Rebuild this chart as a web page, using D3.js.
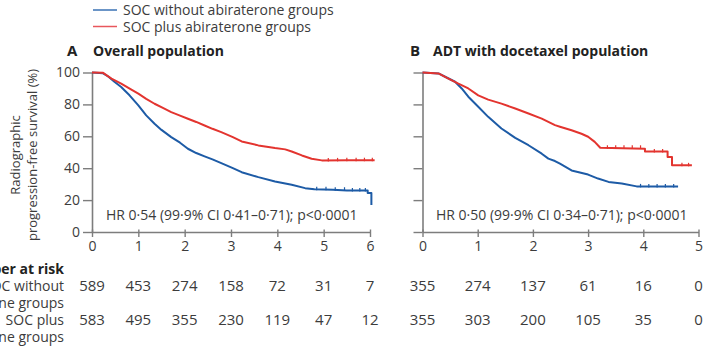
<!DOCTYPE html>
<html><head><meta charset="utf-8">
<script src="https://cdn.jsdelivr.net/npm/d3@7"></script>
<style>
html,body{margin:0;padding:0;background:#fff;}
svg{display:block;font-family:"Open Sans",sans-serif;}
</style></head>
<body><svg id="c" width="712" height="346"></svg>
<script>
// ---- data ----
const seriesNames = ["SOC without abiraterone groups", "SOC plus abiraterone groups"];
const panelTitles = [["A", "Overall population"], ["B", "ADT with docetaxel population"]];
const hrTexts = ["HR 0·54 (99·9% CI 0·41–0·71); p<0·0001", "HR 0·50 (99·9% CI 0·34–0·71); p<0·0001"];
const yTicks = [0, 20, 40, 60, 80, 100];
const xTicksA = [0, 1, 2, 3, 4, 5, 6];
const xTicksB = [0, 1, 2, 3, 4, 5];
const riskLabels = ["Number at risk", "SOC without", "abiraterone groups", "SOC plus", "abiraterone groups"];
const riskA_without = [589, 453, 274, 158, 72, 31, 7];
const riskA_plus = [583, 495, 355, 230, 119, 47, 12];
const riskB_without = [355, 274, 137, 61, 16, 0];
const riskB_plus = [355, 303, 200, 105, 35, 0];

// [years, % progression-free]
const curveA_without = [[0,100],[0.24,99.5],[0.35,97.5],[0.49,94],[0.63,90.9],[0.81,85.7],[1.0,79.4],[1.17,73.1],[1.35,67.9],[1.5,64],[1.71,59.5],[1.9,56],[2.07,52.2],[2.25,49.5],[2.43,47.4],[2.6,45.5],[2.79,43.2],[3.04,40],[3.23,37.5],[3.59,34.4],[3.95,31.7],[4.31,29.6],[4.6,27.5],[4.8,26.8],[5.2,26.5],[5.5,26],[5.95,26],[5.95,24.5],[6.03,24.5],[6.03,17]];
const curveA_plus = [[0,100],[0.24,99.8],[0.42,96.2],[0.63,93],[0.85,89.2],[1.0,86.7],[1.17,83.5],[1.35,80.4],[1.53,77.8],[1.71,75.2],[1.9,73],[2.07,71],[2.25,69],[2.43,66.8],[2.6,64.7],[2.79,62.6],[3.04,59.5],[3.23,56.8],[3.59,54.3],[3.95,52.6],[4.17,51.8],[4.31,50.5],[4.53,48],[4.74,45.9],[4.96,44.9],[5.5,45],[6.1,45]];
const curveB_without = [[0,100],[0.29,99.4],[0.4,97.5],[0.59,94.2],[0.71,90],[0.83,84.8],[1.01,78.5],[1.19,72.2],[1.43,64.9],[1.68,59],[1.92,54.4],[2.16,49.1],[2.28,46],[2.4,44.5],[2.49,42.8],[2.7,38.6],[3.0,36],[3.18,33.5],[3.37,31.4],[3.61,30.4],[3.88,28.6],[4.63,28.6]];
const curveB_plus = [[0,100],[0.29,99.4],[0.47,96.2],[0.65,93],[0.83,90],[1.01,85.7],[1.19,83],[1.43,80.5],[1.68,77.4],[1.92,74.3],[2.16,71.1],[2.4,67],[2.49,66],[2.7,63.8],[2.88,61.6],[3.0,59.7],[3.12,56.5],[3.22,52.8],[4.03,52.2],[4.03,50.5],[4.44,50.5],[4.44,47],[4.52,47],[4.52,41.8],[4.88,41.8]];

// censoring tick times (years) on the flat tails
const censorA_without = [4.85, 5.05, 5.25, 5.45, 5.62, 5.78, 5.9];
const censorA_plus = [5.1, 5.3, 5.5, 5.7, 5.88, 6.05];
const censorB_without = [3.95, 4.1, 4.25, 4.4, 4.55];
const censorB_plus = [3.35, 3.5, 3.65, 3.8, 3.95, 4.2, 4.35, 4.7, 4.82];

// ---- drawing ----
const svg = d3.select("#c");
const colBlue = "#1d5ba6", colRed = "#e3342f";
const legBlue = "#3a72b5", legRed = "#e8575c";
const txt = "#3c3c3c", axisCol = "#7d7d7d";

// legend
const leg = svg.append("g");
[[legBlue, 10], [legRed, 26.5]].forEach(([c, y], i) => {
  leg.append("line").attr("x1", 93).attr("x2", 117).attr("y1", y).attr("y2", y)
     .attr("stroke", c).attr("stroke-width", 1.5);
  leg.append("text").attr("x", 123).attr("y", y + 5).attr("font-size", 14)
     .attr("fill", txt).text(seriesNames[i]);
});

const y = d3.scaleLinear().domain([0, 100]).range([232, 72.5]);

const panels = [
  {x: d3.scaleLinear().domain([0, 6]).range([92, 370]), ticks: xTicksA, labels: true,
   curves: [curveA_without, curveA_plus], censor: [censorA_without, censorA_plus],
   risk: [riskA_without, riskA_plus], titleX: 67, title2X: 93, hrX: 106},
  {x: d3.scaleLinear().domain([0, 5]).range([422.5, 698.5]), ticks: xTicksB, labels: false,
   curves: [curveB_without, curveB_plus], censor: [censorB_without, censorB_plus],
   risk: [riskB_without, riskB_plus], titleX: 410, title2X: 433, hrX: 436}
];

// value of a curve at time t (last point at or before t)
function valueAt(curve, t) {
  let v = curve[0][1];
  for (const [ct, cv] of curve) { if (ct <= t) v = cv; else break; }
  return v;
}

panels.forEach((p, pi) => {
  const g = svg.append("g");
  const x0 = p.x(0);
  // titles
  g.append("text").attr("x", p.titleX).attr("y", 56).attr("font-size", 15).attr("font-weight", 700)
   .attr("fill", "#222").text(panelTitles[pi][0]);
  g.append("text").attr("x", p.title2X).attr("y", 56).attr("font-size", 14).attr("font-weight", 700)
   .attr("fill", "#222").text(panelTitles[pi][1]);

  // y axis
  const ya = g.append("g").attr("transform", `translate(${x0},0)`)
    .call(d3.axisLeft(y).tickValues(yTicks).tickSize(9).tickSizeOuter(0).tickPadding(3)
      .tickFormat(p.labels ? d3.format("d") : () => ""));
  // x axis
  const xa = g.append("g").attr("transform", `translate(0,${y(0)})`)
    .call(d3.axisBottom(p.x).tickValues(p.ticks).tickSize(5).tickSizeOuter(0).tickPadding(4)
      .tickFormat(d3.format("d")));
  [ya, xa].forEach(a => {
    a.select(".domain").attr("stroke", axisCol).attr("stroke-width", 1.6);
    a.selectAll(".tick line").attr("stroke", axisCol).attr("stroke-width", 1.4);
    a.selectAll(".tick text").attr("fill", txt).attr("font-size", 14)
      .attr("font-family", "'Open Sans',sans-serif");
  });
  xa.selectAll(".tick line").attr("y1", -2.5);

  // curves
  const line = d3.line().x(d => p.x(d[0])).y(d => y(d[1]));
  [colBlue, colRed].forEach((c, i) => {
    g.append("path").datum(p.curves[i]).attr("d", line).attr("fill", "none")
     .attr("stroke", c).attr("stroke-width", 2).attr("stroke-linejoin", "round");
    g.selectAll(null).data(p.censor[i]).enter().append("line")
     .attr("x1", d => p.x(d)).attr("x2", d => p.x(d))
     .attr("y1", d => y(valueAt(p.curves[i], d)) - 2.5)
     .attr("y2", d => y(valueAt(p.curves[i], d)) + 1)
     .attr("stroke", c).attr("stroke-width", 1.2);
  });

  // HR text
  g.append("text").attr("x", p.hrX).attr("y", 220).attr("font-size", 14).attr("fill", txt)
   .text(hrTexts[pi]);

  // number at risk
  [286, 320].forEach((ry, ri) => {
    g.selectAll(null).data(p.risk[ri]).enter().append("text")
     .attr("x", (d, k) => p.x(p.ticks[k])).attr("y", ry + 5)
     .attr("text-anchor", "middle").attr("font-size", 15).attr("fill", txt).text(d => d);
  });
});

// risk labels (right aligned, clipped by left edge as in the source)
[269, 286, 303, 320, 337].forEach((ry, i) => {
  svg.append("text").attr("x", 64).attr("y", ry + 5).attr("text-anchor", "end")
    .attr("font-size", 14).attr("font-weight", i === 0 ? 700 : 400)
    .attr("fill", i === 0 ? "#222" : txt).text(riskLabels[i]);
});

// y axis title
const yt = svg.append("text").attr("transform", "translate(22,155) rotate(-90)")
  .attr("text-anchor", "middle").attr("font-size", 13).attr("fill", txt);
yt.append("tspan").attr("x", 0).attr("dy", -2).text("Radiographic");
yt.append("tspan").attr("x", 0).attr("dy", 17).text("progression-free survival (%)");
</script></body></html>
